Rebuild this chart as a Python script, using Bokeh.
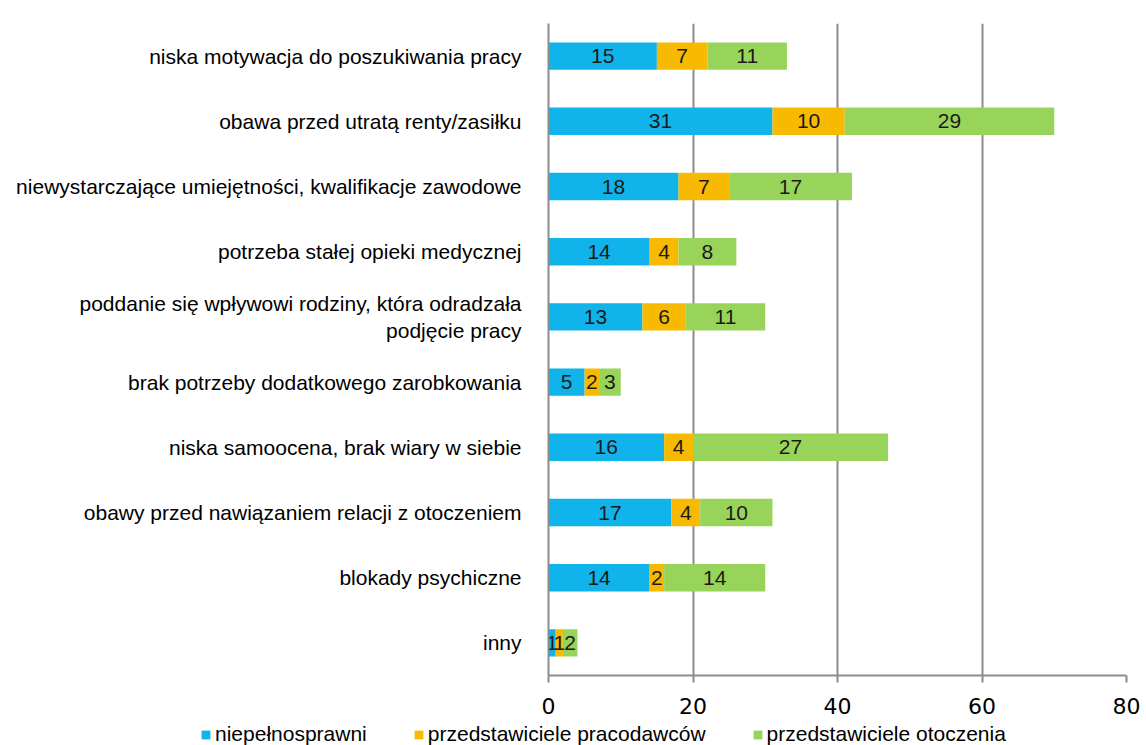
import numpy as np
from bokeh.plotting import figure
from bokeh.models import ColumnDataSource, FactorRange, Range1d, FixedTicker, Legend, LegendItem
from bokeh.core.properties import value
from bokeh.embed import file_html
from bokeh.resources import INLINE

categories = [
    "niska motywacja do poszukiwania pracy",
    "obawa przed utratą renty/zasiłku",
    "niewystarczające umiejętności, kwalifikacje zawodowe",
    "potrzeba stałej opieki medycznej",
    "poddanie się wpływowi rodziny, która odradzała\npodjęcie pracy",
    "brak potrzeby dodatkowego zarobkowania",
    "niska samoocena, brak wiary w siebie",
    "obawy przed nawiązaniem relacji z otoczeniem",
    "blokady psychiczne",
    "inny",
]
niepelnosprawni = [15, 31, 18, 14, 13, 5, 16, 17, 14, 1]
pracodawcy = [7, 10, 7, 4, 6, 2, 4, 4, 2, 1]
otoczenie = [11, 29, 17, 8, 11, 3, 27, 10, 14, 2]
series_names = ["niepełnosprawni", "przedstawiciele pracodawców", "przedstawiciele otoczenia"]
colors = ["#10B3EA", "#F7BA00", "#98D45A"]
x_ticks = [0, 20, 40, 60, 80]

keys = ["s0", "s1", "s2"]
src = ColumnDataSource(dict(cat=categories, s0=niepelnosprawni, s1=pracodawcy, s2=otoczenie))

p = figure(
    width=1146, height=722,
    y_range=FactorRange(factors=list(reversed(categories)), range_padding=0),
    x_range=Range1d(0, 80),
    output_backend="svg", toolbar_location=None,
    min_border_left=548, min_border_right=20, min_border_top=23, min_border_bottom=47,
)
p.outline_line_color = None

p.hbar_stack(keys, y="cat", height=0.42, source=src, color=colors, line_color=None)

# segment labels
vals = np.array([niepelnosprawni, pracodawcy, otoczenie], dtype=float)
cum = np.cumsum(vals, axis=0)
lefts = cum - vals
for i in range(3):
    mids = lefts[i] + vals[i] / 2
    p.text(x=list(mids), y=categories, text=[str(int(v)) for v in vals[i]],
           text_align="center", text_baseline="middle", text_font_size="21px",
           text_font=value("Liberation Sans"), text_color="#1a1a1a")

# axes
p.xaxis.ticker = FixedTicker(ticks=x_ticks)
p.xaxis.axis_line_color = "#8c8c8c"
p.xaxis.axis_line_width = 2
p.xaxis.major_tick_line_color = "#8c8c8c"
p.xaxis.major_tick_line_width = 2
p.xaxis.major_tick_out = 7
p.xaxis.major_tick_in = 0
p.xaxis.minor_tick_line_color = None
p.xaxis.major_label_text_font = "DejaVu Sans"
p.xaxis.major_label_text_font_size = "22px"
p.xaxis.major_label_text_color = "#000000"
p.xaxis.major_label_standoff = 15

p.yaxis.axis_line_color = "#8c8c8c"
p.yaxis.axis_line_width = 2
p.yaxis.major_tick_line_color = None
p.yaxis.minor_tick_line_color = None
p.yaxis.major_label_text_font = "Liberation Sans"
p.yaxis.major_label_text_font_size = "21px"
p.yaxis.major_label_text_color = "#000000"
p.yaxis.major_label_standoff = 21

p.xgrid.grid_line_color = "#8c8c8c"
p.xgrid.grid_line_width = 2
p.ygrid.grid_line_color = None

# legend strip below (separate root so it is not frame-aligned)
lg = figure(
    width=1146, height=23, x_range=Range1d(0, 1), y_range=Range1d(0, 1),
    output_backend="svg", toolbar_location=None,
    x_axis_location=None, y_axis_location=None,
    min_border_left=0, min_border_right=0, min_border_top=0, min_border_bottom=0,
)
lg.outline_line_color = None
lg.xgrid.grid_line_color = None
lg.ygrid.grid_line_color = None
dummies = [lg.hbar(y=[50], left=[50], right=[51], height=1, color=c, line_color=None) for c in colors]
legend = Legend(
    items=[LegendItem(label=series_names[i], renderers=[dummies[i]]) for i in range(3)],
    orientation="horizontal",
    location=(200, -1),
    label_text_font="Liberation Sans", label_text_font_size="21px", label_text_color="#000000",
    glyph_width=11, glyph_height=11, label_standoff=4, spacing=46,
    padding=0, margin=0, border_line_color=None, background_fill_alpha=0,
)
lg.add_layout(legend, "center")

open("out.html", "w").write(file_html([p, lg], INLINE))
